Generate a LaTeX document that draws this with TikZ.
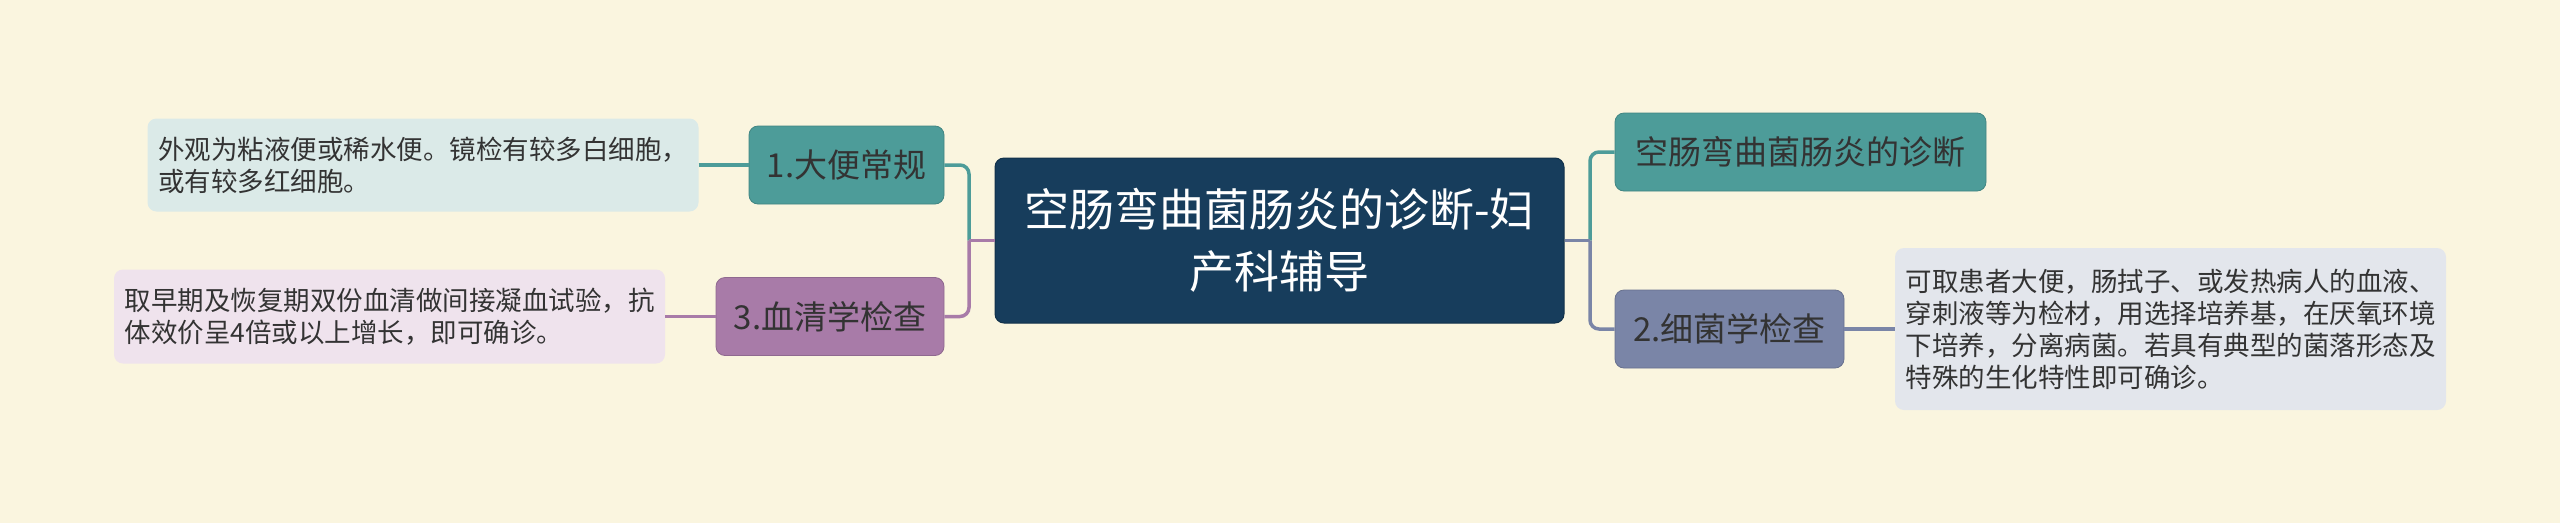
\documentclass[tikz,border=0pt]{standalone}
\usepackage{fontspec}
\setmainfont{Noto Sans CJK SC}
\definecolor{bgc}{HTML}{FAF5DF}
\definecolor{navyc}{HTML}{173D5C}
\definecolor{tealc}{HTML}{4D9C99}
\definecolor{purc}{HTML}{A87BA8}
\definecolor{slatec}{HTML}{7A85A7}
\definecolor{notea}{HTML}{DBEAE8}
\definecolor{noteb}{HTML}{E3E6EC}
\definecolor{notec}{HTML}{EFE3ED}
\begin{document}
\begin{tikzpicture}[x=1pt,y=-1pt,
    box/.style={rounded corners=9pt,inner sep=0pt,text=black!80},
    root/.style={box,fill=navyc,draw=navyc!80!black,line width=1pt,text=white,align=center,
      minimum width=569pt,minimum height=165pt,font=\fontsize{45}{62}\selectfont},
    topic/.style={box,fill=#1,draw=#1!85!black,line width=0.8pt,minimum height=78pt,
      font=\fontsize{33}{40}\selectfont},
    note/.style={box,fill=#1,text width=530pt,inner xsep=10.5pt,align=left,
      font=\fontsize{26.5}{32}\selectfont},
    link/.style={draw=#1,line width=3.5pt,rounded corners=9pt}]
    \useasboundingbox[fill=bgc] (0,0) rectangle (2560,523);
    %
    \node[root] (root) at (1279.5,240.5) {空肠弯曲菌肠炎的诊断-妇\\产科辅导};
    %
    \node[topic=tealc,minimum width=195pt] (stool) at (846.5,165) {1.大便常规};
    \node[topic=purc,minimum width=228pt] (serum) at (830,316.5) {3.血清学检查};
    \node[topic=tealc,minimum width=371pt] (diag) at (1800.5,152) {空肠弯曲菌肠炎的诊断};
    \node[topic=slatec,minimum width=229pt] (germ) at (1729.5,329) {2.细菌学检查};
    %
    \node[note=notea,minimum height=93pt] (stoolnote) at (423,165) {外观为粘液便或稀水便。镜检有较多白细胞，\\或有较多红细胞。};
    \node[note=notec,minimum height=94pt] (serumnote) at (389.5,316.5) {取早期及恢复期双份血清做间接凝血试验，抗\\体效价呈4倍或以上增长，即可确诊。};
    \node[note=noteb,minimum height=162pt] (germnote) at (2170.5,329) {可取患者大便，肠拭子、或发热病人的血液、\\穿刺液等为检材，用选择培养基，在厌氧环境\\下培养，分离病菌。若具有典型的菌落形态及\\特殊的生化特性即可确诊。};
    %
    \coordinate (lj) at (969,240.5);
    \coordinate (rj) at (1590,240.5);
    \draw[link=tealc] (lj) |- (stool.east);
    \draw[link=purc] (lj) |- (serum.east);
    \draw[link=purc] (root.west) -- (lj);
    \draw[link=tealc] (rj) |- (diag.west);
    \draw[link=slatec] (rj) |- (germ.west);
    \draw[link=slatec] (root.east) -- (rj);
    %
    \draw[link=tealc] (stoolnote.east) -- (stool.west);
    \draw[link=purc] (serumnote.east) -- (serum.west);
    \draw[link=slatec] (germ.east) -- (germnote.west);
\end{tikzpicture}
\end{document}
